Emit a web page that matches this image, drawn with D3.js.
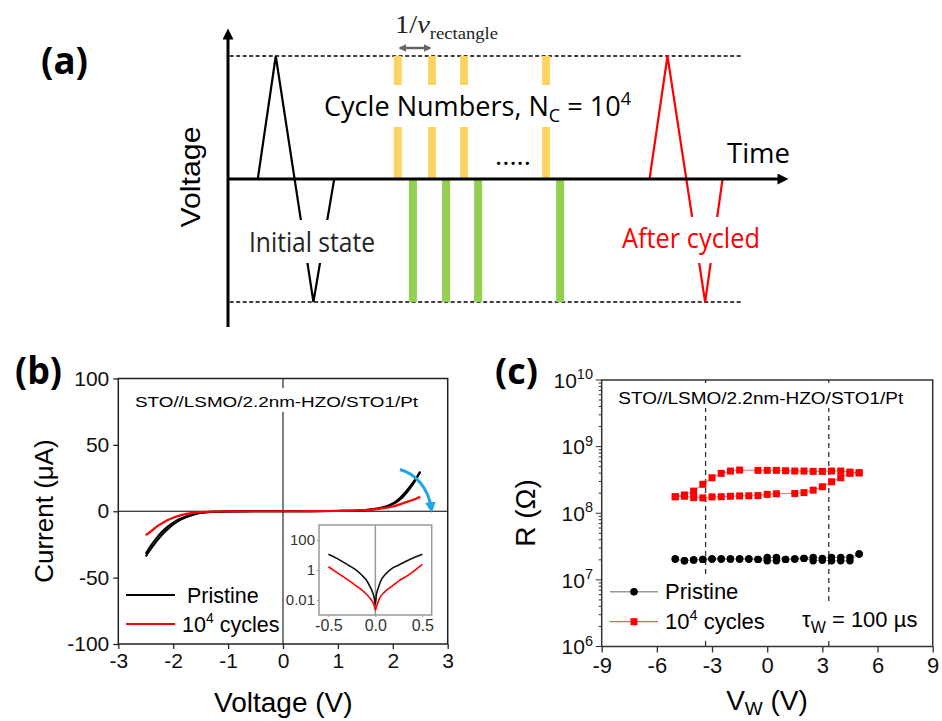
<!DOCTYPE html>
<html><head><meta charset="utf-8">
<script src="https://cdn.jsdelivr.net/npm/d3@7"></script>
<style>body{margin:0;background:#fff}svg{display:block}</style>
</head><body>
<script>
// ---------------- DATA ----------------
// (a) schematic pulse train (time in arbitrary units, voltage normalised)
const initPulseT = [5.3, 8.5, 15.2, 18.9];
const initPulseV = [0, 1, -1, 0];
const cycledPulseT = [75, 78.2, 84.9, 88];
const cycledPulseV = [0, 1, -1, 0];
const posRectT = [30.2, 36.3, 42, 56.6];
const negRectT = [32.9, 38.8, 44.5, 59.1];

// (b) I-V curves (V, µA)
const ivVoltage = [-2.5,-2.4,-2.3,-2.2,-2.1,-2.0,-1.9,-1.8,-1.7,-1.6,-1.5,-1.3,-1.0,-0.5,0,0.5,1.0,1.3,1.5,1.7,1.9,2.0,2.1,2.2,2.3,2.4,2.5];
const ivPristineFwd = [-34,-28,-22.5,-17.5,-13.5,-10,-7.3,-5.2,-3.6,-2.3,-1.4,-0.5,-0.1,0,0,0.05,0.3,0.45,0.9,2.0,4.0,6.0,8.8,13,18,23.5,30];
const ivPristineRev = [-32,-25.5,-20,-15.3,-11.6,-8.6,-6.2,-4.4,-3.0,-1.9,-1.1,-0.4,-0.1,0,0,0.05,0.25,0.4,0.8,1.8,3.6,5.3,7.8,11.5,16.5,22.5,29.5];
const ivCycled = [-18,-15,-11.6,-9,-6.6,-4.9,-3.5,-2.4,-1.6,-1.0,-0.7,-0.3,-0.1,0,0,0.05,0.2,0.4,0.8,1.6,2.7,3.6,4.8,6.2,7.6,9.1,10.9];

// (b) inset |I| log scale
const insetVBlack = [-0.5,-0.4,-0.288,-0.2,-0.145,-0.1,-0.057,-0.03,-0.011,0,0.01,0.03,0.06,0.1,0.17,0.245,0.35,0.5];
const insetIBlack = [11.2,5.5,2.1,0.95,0.46,0.23,0.078,0.033,0.013,0.0047,0.02,0.06,0.2,0.46,1.2,2.1,4.5,11.2];
const insetVRed = [-0.5,-0.4,-0.288,-0.2,-0.145,-0.1,-0.057,-0.03,-0.011,0,0.01,0.045,0.1,0.17,0.25,0.35,0.5];
const insetIRed = [1.66,0.62,0.21,0.085,0.047,0.026,0.013,0.0075,0.004,0.0021,0.0033,0.013,0.035,0.078,0.19,0.46,2.4];

// (c) R vs V_W
const vwSweep = [-5,-4.5,-4,-3.5,-3,-2.5,-2,-1.5,-1,-0.5,0,0.5,1,1.5,2,2.5,3,3.5,4,4.5,5];
const rPristineUp = [2.06e7,1.94e7,1.99e7,2.03e7,2.06e7,2.06e7,2.06e7,2.06e7,2.06e7,2.03e7,1.94e7,1.94e7,2.03e7,2.06e7,2.1e7,1.94e7,1.97e7,1.94e7,1.94e7,1.94e7,2.44e7];
const rPristineDown = [2.06e7,1.94e7,1.99e7,2.03e7,2.06e7,2.06e7,2.06e7,2.06e7,2.06e7,2.03e7,2.18e7,2.18e7,2.03e7,2.06e7,2.1e7,2.18e7,2.1e7,2.18e7,2.18e7,2.18e7,2.44e7];
const vwCycLow = [-5,-4.5,-4,-3.5,-3,-2.5,-2,-1.5,-1,-0.5,0,0.5,1.5,2,2.5,3,3.5,4,4.5,5];
const rCycLow = [1.77e8,1.80e8,1.72e8,1.70e8,1.76e8,1.77e8,1.80e8,1.82e8,1.83e8,1.84e8,1.92e8,1.96e8,1.98e8,2.04e8,2.22e8,2.50e8,2.97e8,3.41e8,3.97e8,4.05e8];
const vwCycHigh = [5,4.5,4,3.5,3,2.5,2,1.5,1,0.5,0,-0.5,-1.5,-2,-2.5,-3,-3.5,-4,-4.5,-5];
const rCycHigh = [4.05e8,4.15e8,4.3e8,4.3e8,4.25e8,4.25e8,4.3e8,4.3e8,4.35e8,4.4e8,4.4e8,4.4e8,4.45e8,4.3e8,3.97e8,3.41e8,2.72e8,2.15e8,1.88e8,1.77e8];
const coerciveV = [-3.35, 3.35];

// tick labels
const bXTicks = [-3,-2,-1,0,1,2,3];
const bYTicks = [-100,-50,0,50,100];
const insetXTicks = [-0.5,0,0.5];
const insetYTicks = [0.01,1,100];
const cXTicks = [-9,-6,-3,0,3,6,9];
const cYExps = [6,7,8,9,10];

// ---------------- SETUP ----------------
const ARIAL = "'Liberation Sans',Arial,sans-serif";
const svg = d3.select("body").append("svg").attr("width",942).attr("height",721).attr("font-family",ARIAL);
const defs = svg.append("defs");
function marker(id,color,w,h,refX){
  defs.append("marker").attr("id",id).attr("viewBox","0 0 10 10")
    .attr("refX",refX).attr("refY",5).attr("markerWidth",w).attr("markerHeight",h)
    .attr("orient","auto-start-reverse").attr("markerUnits","userSpaceOnUse")
    .append("path").attr("d","M0,0L10,5L0,10z").attr("fill",color);
}
marker("arrK","#000",14,11,5);
marker("arrG","#666",8,8,8);
marker("arrB","#1ea5e6",11,11,6);
const zip = (a,b)=>a.map((d,i)=>[d,b[i]]);

// ---------------- PANEL (a) ----------------
const xA = d3.scaleLinear([0,100],[228,790]);
const yA = d3.scaleLinear([-1,1],[302,56]);
const gA = svg.append("g");
[1,-1].forEach(v=>{
  gA.append("line").attr("x1",xA(0.3)).attr("x2",xA(91.4)).attr("y1",yA(v)).attr("y2",yA(v))
    .attr("stroke","#000").attr("stroke-width",1.4).attr("stroke-dasharray","4,2.5");
});
gA.selectAll(".pos").data(posRectT).join("rect").attr("x",d=>xA(d)-4).attr("width",8)
  .attr("y",yA(1)).attr("height",yA(0)-yA(1)).attr("fill","#ffd264");
gA.selectAll(".neg").data(negRectT).join("rect").attr("x",d=>xA(d)-4).attr("width",8)
  .attr("y",yA(0)).attr("height",yA(-1)-yA(0)).attr("fill","#92d050");
const lineA = d3.line().x(d=>xA(d[0])).y(d=>yA(d[1]));
gA.append("path").attr("d",lineA(zip(initPulseT,initPulseV))).attr("fill","none").attr("stroke","#000").attr("stroke-width",2.2);
gA.append("path").attr("d",lineA(zip(cycledPulseT,cycledPulseV))).attr("fill","none").attr("stroke","#f00").attr("stroke-width",2.2);
gA.append("line").attr("x1",xA(0)).attr("x2",xA(0)).attr("y1",327).attr("y2",34)
  .attr("stroke","#000").attr("stroke-width",3).attr("marker-end","url(#arrK)");
gA.append("line").attr("x1",xA(0)).attr("x2",783).attr("y1",yA(0)).attr("y2",yA(0))
  .attr("stroke","#000").attr("stroke-width",3).attr("marker-end","url(#arrK)");
gA.append("rect").attr("x",318).attr("y",85).attr("width",319).attr("height",42).attr("fill","#fff");
gA.append("rect").attr("x",246).attr("y",220).attr("width",132).attr("height",43).attr("fill","#fff");
gA.append("rect").attr("x",618).attr("y",217).attr("width",145).attr("height",46).attr("fill","#fff");
const sansA = "'Open Sans','Liberation Sans',sans-serif";
const tCyc = gA.append("text").attr("x",324).attr("y",116).attr("font-size",27).attr("font-family",sansA)
  .attr("textLength",307).attr("lengthAdjust","spacingAndGlyphs");
tCyc.append("tspan").text("Cycle Numbers, N");
tCyc.append("tspan").attr("font-size",18).attr("dy",6).text("C");
tCyc.append("tspan").attr("dy",-6).text(" = 10");
tCyc.append("tspan").attr("font-size",18).attr("dy",-11).text("4");
gA.append("text").attr("x",249).attr("y",252).attr("font-size",27).attr("font-family",sansA)
  .attr("textLength",126).attr("lengthAdjust","spacingAndGlyphs").attr("fill","#222").text("Initial state");
gA.append("text").attr("x",622).attr("y",248).attr("font-size",27).attr("font-family",sansA)
  .attr("textLength",138).attr("lengthAdjust","spacingAndGlyphs").attr("fill","#f00").text("After cycled");
gA.append("text").attr("x",495).attr("y",165).attr("font-size",26).attr("font-family",sansA)
  .attr("textLength",36).attr("lengthAdjust","spacingAndGlyphs").text(".....");
gA.append("text").attr("x",727).attr("y",163).attr("font-size",28).attr("font-family",sansA)
  .attr("textLength",63).attr("lengthAdjust","spacingAndGlyphs").text("Time");
gA.append("text").attr("transform","translate(200,177) rotate(-90)").attr("text-anchor","middle")
  .attr("font-size",27).attr("textLength",101).attr("lengthAdjust","spacingAndGlyphs").text("Voltage");
gA.append("text").attr("x",41).attr("y",74).attr("font-size",37).attr("font-weight","bold")
  .attr("font-family",sansA).attr("textLength",47).attr("lengthAdjust","spacingAndGlyphs").text("(a)");
const tRect = gA.append("text").attr("x",395).attr("y",33).attr("font-family","'Liberation Serif','Times New Roman',serif")
  .attr("font-size",26).attr("textLength",103).attr("lengthAdjust","spacingAndGlyphs").attr("fill","#222");
tRect.append("tspan").text("1/");
tRect.append("tspan").attr("font-style","italic").text("v");
tRect.append("tspan").attr("font-size",17).attr("dy",6).text("rectangle");
gA.append("line").attr("x1",400).attr("x2",430).attr("y1",48).attr("y2",48).attr("stroke","#666")
  .attr("stroke-width",2.5).attr("marker-start","url(#arrG)").attr("marker-end","url(#arrG)");

// ---------------- PANEL (b) ----------------
const xB = d3.scaleLinear([-3,3],[118.3,447.7]);
const yB = d3.scaleLinear([-100,100],[644,378.5]);
const gB = svg.append("g");
gB.append("line").attr("x1",xB(-3)).attr("x2",xB(3)).attr("y1",yB(0)).attr("y2",yB(0)).attr("stroke","#000").attr("stroke-width",1);
gB.append("line").attr("x1",xB(0)).attr("x2",xB(0)).attr("y1",yB(100)).attr("y2",yB(-100)).attr("stroke","#000").attr("stroke-width",1);
gB.append("rect").attr("x",128).attr("y",388).attr("width",299).attr("height",24).attr("fill","#fff");
gB.append("text").attr("x",135).attr("y",406.5).attr("font-size",15.5).attr("textLength",283)
  .attr("lengthAdjust","spacingAndGlyphs").text("STO//LSMO/2.2nm-HZO/STO1/Pt");
const lineB = d3.line().x(d=>xB(d[0])).y(d=>yB(d[1])).curve(d3.curveMonotoneX);
gB.append("path").attr("d",lineB(zip(ivVoltage,ivPristineFwd))).attr("fill","none").attr("stroke","#000").attr("stroke-width",2);
gB.append("path").attr("d",lineB(zip(ivVoltage,ivPristineRev))).attr("fill","none").attr("stroke","#000").attr("stroke-width",2);
gB.append("path").attr("d",lineB(zip(ivVoltage,ivCycled))).attr("fill","none").attr("stroke","#f00").attr("stroke-width",2.2);
gB.append("path").attr("d",`M${xB(2.13)},${yB(31.5)} C${xB(2.4)},${yB(28.5)} ${xB(2.65)},${yB(18)} ${xB(2.7)},${yB(2)}`)
  .attr("fill","none").attr("stroke","#1ea5e6").attr("stroke-width",3).attr("marker-end","url(#arrB)");
const axB = gB.append("g").attr("transform",`translate(0,${yB(-100)})`)
  .call(d3.axisBottom(xB).tickValues(bXTicks).tickSize(5).tickPadding(4).tickFormat(d=>String(d)));
const ayB = gB.append("g").attr("transform",`translate(${xB(-3)},0)`)
  .call(d3.axisLeft(yB).tickValues(bYTicks).tickSize(5).tickPadding(4).tickFormat(d=>String(d)));
[axB,ayB].forEach(a=>{a.select(".domain").remove(); a.attr("font-family",ARIAL); a.selectAll("text").attr("font-size",21).attr("fill","#111"); a.selectAll("line").attr("stroke","#222").attr("stroke-width",1.3);});
gB.append("rect").attr("x",xB(-3)).attr("y",yB(100)).attr("width",xB(3)-xB(-3)).attr("height",yB(-100)-yB(100))
  .attr("fill","none").attr("stroke","#222").attr("stroke-width",1.5);
gB.append("text").attr("x",283.3).attr("y",712).attr("text-anchor","middle").attr("font-size",28).text("Voltage (V)");
gB.append("text").attr("transform","translate(53,511) rotate(-90)").attr("text-anchor","middle").attr("font-size",26).text("Current (μA)");
gB.append("text").attr("x",15).attr("y",384).attr("font-size",37).attr("font-weight","bold")
  .attr("font-family",sansA).attr("textLength",47).attr("lengthAdjust","spacingAndGlyphs").text("(b)");
gB.append("line").attr("x1",126).attr("x2",175).attr("y1",595).attr("y2",595).attr("stroke","#000").attr("stroke-width",2);
gB.append("line").attr("x1",126).attr("x2",175).attr("y1",624).attr("y2",624).attr("stroke","#f00").attr("stroke-width",2);
gB.append("text").attr("x",187).attr("y",603).attr("font-size",21.5).text("Pristine");
const lb2 = gB.append("text").attr("x",182).attr("y",632).attr("font-size",21.5);
lb2.append("tspan").text("10");
lb2.append("tspan").attr("font-size",14).attr("dy",-9).text("4");
lb2.append("tspan").attr("dy",9).text(" cycles");

// inset
const xI = d3.scaleLinear([-0.6,0.6],[319,431.7]);
const yI = d3.scaleLog([1e-3,1e3],[615,525]);
const gI = svg.append("g");
gI.append("rect").attr("x",xI(-0.6)).attr("y",yI(1e3)).attr("width",xI(0.6)-xI(-0.6)).attr("height",yI(1e-3)-yI(1e3))
  .attr("fill","#fff").attr("stroke","#999").attr("stroke-width",1.5);
gI.append("line").attr("x1",xI(0)).attr("x2",xI(0)).attr("y1",yI(1e3)).attr("y2",yI(1e-3)).attr("stroke","#999").attr("stroke-width",1.5);
const lineI = d3.line().x(d=>xI(d[0])).y(d=>yI(d[1])).curve(d3.curveMonotoneX);
gI.append("path").attr("d",lineI(zip(insetVBlack,insetIBlack))).attr("fill","none").attr("stroke","#111").attr("stroke-width",1.6);
gI.append("path").attr("d",lineI(zip(insetVRed,insetIRed))).attr("fill","none").attr("stroke","#f00").attr("stroke-width",1.6);
const axI = gI.append("g").attr("transform",`translate(0,${yI(1e-3)})`)
  .call(d3.axisBottom(xI).tickValues(insetXTicks).tickSize(2).tickPadding(3).tickFormat(d=>d.toFixed(1)));
const ayI = gI.append("g").attr("transform",`translate(${xI(-0.6)},0)`)
  .call(d3.axisLeft(yI).tickValues(insetYTicks).tickSize(2).tickPadding(2).tickFormat(d=>d<1?"0.01":String(d)));
[axI,ayI].forEach(a=>{a.select(".domain").remove(); a.attr("font-family",ARIAL); a.selectAll("line").attr("stroke","#999"); a.selectAll("text").attr("fill","#333");});
axI.selectAll("text").attr("font-size",16);
ayI.selectAll("text").attr("font-size",15);

// ---------------- PANEL (c) ----------------
const xC = d3.scaleLinear([-9,9],[601.7,932.7]);
const yC = d3.scaleLog([1e6,1e10],[646.5,380]);
const gC = svg.append("g");
coerciveV.forEach(v=>{
  gC.append("line").attr("x1",xC(v)).attr("x2",xC(v)).attr("y1",yC(1e10)).attr("y2",yC(1e6))
    .attr("stroke","#333").attr("stroke-width",1.3).attr("stroke-dasharray","5,4");
});
const lineC = d3.line().x(d=>xC(d[0])).y(d=>yC(d[1]));
const pUp = zip(vwSweep,rPristineUp), pDown = zip(vwSweep,rPristineDown).reverse();
gC.append("path").attr("d",lineC(pUp.concat(pDown))).attr("fill","none").attr("stroke","#999").attr("stroke-width",1);
const cLow = zip(vwCycLow,rCycLow), cHigh = zip(vwCycHigh,rCycHigh);
gC.append("path").attr("d",lineC(cLow.concat(cHigh))).attr("fill","none").attr("stroke","#f66").attr("stroke-width",1);
gC.selectAll(".pc").data(pUp.concat(pDown)).join("circle").attr("cx",d=>xC(d[0])).attr("cy",d=>yC(d[1])).attr("r",3.7).attr("fill","#000");
gC.selectAll(".sq").data(cLow.concat(cHigh)).join("rect").attr("x",d=>xC(d[0])-3.5).attr("y",d=>yC(d[1])-3.5)
  .attr("width",7).attr("height",7).attr("fill","#f00");
gC.append("rect").attr("x",615).attr("y",383).attr("width",292).attr("height",25).attr("fill","#fff");
gC.append("text").attr("x",618.3).attr("y",404).attr("font-size",16).attr("textLength",285)
  .attr("lengthAdjust","spacingAndGlyphs").text("STO//LSMO/2.2nm-HZO/STO1/Pt");
gC.append("rect").attr("x",608).attr("y",578).attr("width",160).attr("height",59).attr("fill","#fff");
gC.append("rect").attr("x",792).attr("y",605).attr("width",135).attr("height",32).attr("fill","#fff");
const axC = gC.append("g").attr("transform",`translate(0,${yC(1e6)})`)
  .call(d3.axisBottom(xC).tickValues(cXTicks).tickSize(6).tickPadding(5).tickFormat(d=>String(d)));
axC.select(".domain").remove();
axC.attr("font-family",ARIAL);
axC.selectAll("line").attr("stroke","#333").attr("stroke-width",1.3);
axC.selectAll("text").attr("font-size",22).attr("fill","#111");
const ayC = gC.append("g").attr("transform",`translate(${xC(-9)},0)`);
const logTicks = yC.ticks();
ayC.selectAll("line").data(logTicks).join("line")
  .attr("x1",d=>Math.abs(Math.log10(d)-Math.round(Math.log10(d)))<1e-9?-6:-3).attr("x2",0)
  .attr("y1",d=>yC(d)).attr("y2",d=>yC(d)).attr("stroke","#333").attr("stroke-width",1);
cYExps.forEach(e=>{
  const t = ayC.append("text").attr("x",-8.7).attr("y",yC(Math.pow(10,e))+7.7).attr("text-anchor","end").attr("font-size",21).attr("fill","#111");
  t.append("tspan").text("10");
  t.append("tspan").attr("font-size",14.5).attr("dy",-8.5).text(String(e));
});
gC.append("rect").attr("x",xC(-9)).attr("y",yC(1e10)).attr("width",xC(9)-xC(-9)).attr("height",yC(1e6)-yC(1e10))
  .attr("fill","none").attr("stroke","#333").attr("stroke-width",1.5);
const lx = gC.append("text").attr("x",767).attr("y",710).attr("text-anchor","middle").attr("font-size",28);
lx.append("tspan").text("V");
lx.append("tspan").attr("font-size",19).attr("dy",5).text("W");
lx.append("tspan").attr("dy",-5).text(" (V)");
gC.append("text").attr("transform","translate(535,513) rotate(-90)").attr("text-anchor","middle").attr("font-size",28).text("R (Ω)");
gC.append("text").attr("x",495).attr("y",384).attr("font-size",35).attr("font-weight","bold")
  .attr("font-family",sansA).attr("textLength",43).attr("lengthAdjust","spacingAndGlyphs").text("(c)");
gC.append("line").attr("x1",610).attr("x2",658).attr("y1",591.7).attr("y2",591.7).attr("stroke","#999").attr("stroke-width",1.5);
gC.append("circle").attr("cx",634).attr("cy",591.7).attr("r",3.8).attr("fill","#000");
gC.append("line").attr("x1",610).attr("x2",658).attr("y1",621.7).attr("y2",621.7).attr("stroke","#f55").attr("stroke-width",1.2);
gC.append("rect").attr("x",630.5).attr("y",618.2).attr("width",7).attr("height",7).attr("fill","#f00");
gC.append("text").attr("x",665).attr("y",599).attr("font-size",22).text("Pristine");
const lc2 = gC.append("text").attr("x",665).attr("y",628.5).attr("font-size",22);
lc2.append("tspan").text("10");
lc2.append("tspan").attr("font-size",14.5).attr("dy",-9).text("4");
lc2.append("tspan").attr("dy",9).text(" cycles");
const tau = gC.append("text").attr("x",802).attr("y",627).attr("font-size",22);
tau.append("tspan").text("τ");
tau.append("tspan").attr("font-size",16).attr("dy",6).text("W");
tau.append("tspan").attr("dy",-6).text(" = 100 µs");
</script>
</body></html>
